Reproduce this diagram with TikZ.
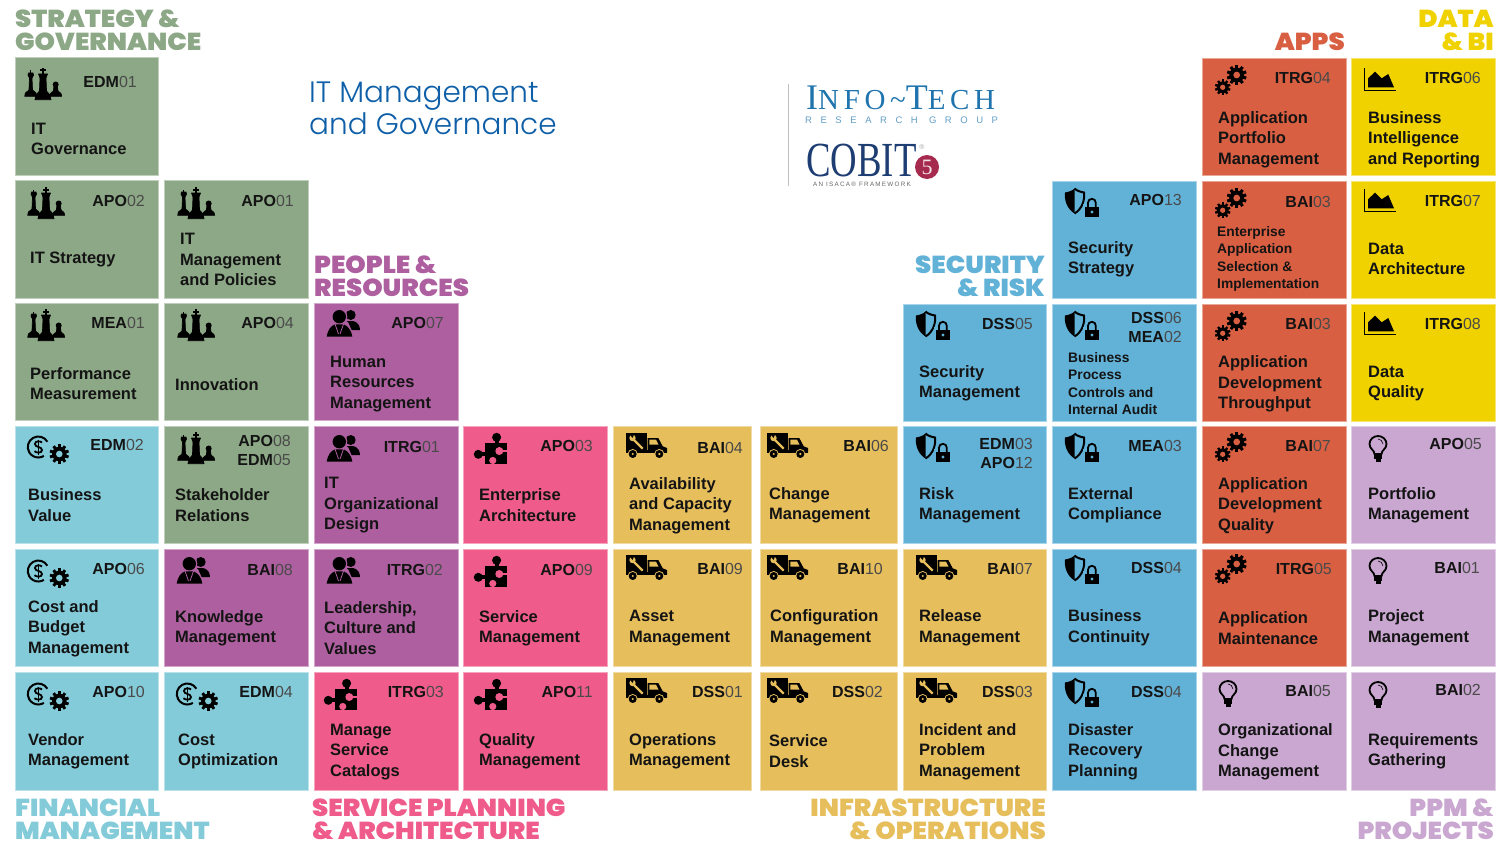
\documentclass[tikz,border=0pt]{standalone}
\usepackage{fontspec}
\setmainfont{Liberation Sans}
\newfontfamily\headfont{Poppins}[BoldFont={Poppins Black},BoldFeatures={FakeStretch=1.06}]
\newfontfamily\bigfont{Poppins Light}
\newfontfamily\logofont{Liberation Serif}[LetterSpace=16]
\newfontfamily\cobitfont{Liberation Serif}[FakeStretch=.75]
\newfontfamily\spacedfont{Liberation Sans}[LetterSpace=90]
\newfontfamily\isacafont{Liberation Sans}[LetterSpace=20]
\newfontfamily\badgefont{Liberation Serif}
\usepackage{tikz}
\definecolor{govn}{HTML}{8DA886}
\definecolor{fin}{HTML}{84CBD9}
\definecolor{hr}{HTML}{AE5F9F}
\definecolor{plan}{HTML}{EF5B8B}
\definecolor{infra}{HTML}{E6BE5C}
\definecolor{sec}{HTML}{62B2D8}
\definecolor{apps}{HTML}{D95F42}
\definecolor{data}{HTML}{EFD200}
\definecolor{ppm}{HTML}{C9A7D0}
\definecolor{ink}{HTML}{141414}
\definecolor{thin}{HTML}{4A4A4A}
\definecolor{mainblue}{HTML}{0F5FA8}
\definecolor{techblue}{HTML}{1F74AE}
\definecolor{cobitblue}{HTML}{1E3E73}
\definecolor{cobitred}{HTML}{A52A4E}
\tikzset{
    tilebox/.style={rectangle, anchor=north west, draw=#1!55!white, line width=.8pt, fill=#1, inner sep=0pt},
    tilesize/.style 2 args={minimum width=#1pt-.5pt, minimum height=#2pt-.5pt},
    codetxt/.style={anchor=east, align=right, inner sep=0pt, yshift=-.5pt, font=\fontsize{16}{19}\selectfont, text=ink},
    titletxt/.style={anchor=west, align=left, inner sep=0pt, yshift=-1.7pt, font=\bfseries\fontsize{16.5}{20.5}\selectfont, text=ink},
    headtxt/.style={inner sep=0pt, font=\headfont\bfseries\fontsize{24.5}{23}\selectfont},
}
\newcommand{\cd}[2]{{\bfseries #1}{\color{thin}#2}}
\newcommand{\lesser}[1]{{\fontsize{13.8}{17.5}\selectfont\begin{tabular}{@{}l@{}}#1\end{tabular}}}
\newcommand{\cogat}[4]{
    \begin{scope}[shift={(#1,#2)}]
        \fill circle (#3);
        \foreach \a in {0,36,...,324}{\fill[rotate=\a] (-#3*.2,-#3*1.33) rectangle (#3*.2,0);}
        \fill[#4] circle (#3*.45);
    \end{scope}
}
% one icon for each colour
\tikzset{
    govn/.pic={
        \begin{scope}[line width=.7pt, line join=round]
        \fill (-1,-17) rectangle (1,-10);
        \fill (-3,-15.5) rectangle (3,-13.5);
        \filldraw (-4.5,-11) -- (4.5,-11) -- (3,-7) -- (3.5,6) -- (7,10) -- (8,14.7) -- (-8,14.7) -- (-7,10) -- (-3.5,6) -- (-3,-7) -- cycle;
        \filldraw (-15,-10) -- (-14.5,-12) -- (-10,-12) -- (-9.5,-10) -- (-11,-7) -- (-10.5,5) -- (-7,8) -- (-6.3,11.3) -- (-18.3,11.3) -- (-17.6,8) -- (-14,5) -- (-13.5,-7) -- cycle;
        \fill (-13,-14.5) rectangle (-11.6,-11);
        \fill (12.7,-.5) circle (3);
        \filldraw (11,1) -- (14.4,1) -- (15,6) -- (18,8.5) -- (18.7,11.3) -- (6.7,11.3) -- (7.4,8.5) -- (10.4,6) -- cycle;
        \end{scope}
    },
    fin/.pic={
        \draw[line width=2pt] (-1.6,-5.25) arc[start angle=-30, end angle=-302, radius=10.5];
        \draw[line width=1.8pt] (-7,-4.5) .. controls (-8.5,-6) and (-14,-6.5) .. (-14,-3) .. controls (-14,.5) and (-7,-.5) .. (-7,3) .. controls (-7,6.5) and (-13,6) .. (-14.5,4.2);
        \fill (-11.3,-7.5) rectangle (-10.1,7.5);
        \cogat{10.3}{7}{7.3}{fin}
    },
    hr/.pic={
        \fill (7.7,-8) circle (5);
        \fill (4,-2) -- (10,-2) .. controls (15,-1) and (17,3) .. (17,7) -- (8,7) -- cycle;
        \fill[hr] (-3.7,-6.3) circle (8);
        \fill[hr] (-18,15) -- (-12,0) -- (5,-1) -- (12,15) -- cycle;
        \fill (-3.7,-6.3) circle (6.7);
        \fill (-16.3,13.7) .. controls (-15,6) and (-12,3) .. (-8,1.3) -- (.5,1.3) .. controls (4.5,3) and (8,6) .. (9.3,13.7) -- cycle;
        \draw[hr, line width=.8pt] (-8,1) -- (-4.5,11) (.5,1) -- (-3,11);
    },
    plan/.pic={
        \fill (-6,-6) rectangle (15.5,15);
        \fill (5.6,-11.7) circle (4.5);
        \fill (3.5,-10) rectangle (7.5,-5);
        \fill (-12.7,5.3) circle (4.5);
        \fill (-11,3.3) rectangle (-5,7.3);
        \fill[plan] (8.3,2) circle (4);
        \fill[plan] (8,.7) rectangle (16,3.3);
        \fill[plan] (1.8,11.5) circle (3.6);
        \fill[plan] (.5,11.5) rectangle (3.1,16);
    },
    infra/.pic={
        \fill (-20,-13) rectangle (.7,4.3);
        \fill (1.5,-8) -- (12.3,-8) -- (16.7,.3) -- (21,2) -- (21,6.5) -- (1.5,6.5) -- cycle;
        \fill (-20.5,4) rectangle (21,6.5);
        \fill[infra] (3.3,-6.3) -- (10,-6.3) -- (12.5,-1.3) -- (3.3,-1.3) -- cycle;
        \draw[infra, line width=2.2pt] (-13,-7) -- (-3.3,2.7);
        \fill[infra] (-13.5,-8) circle (3.2);
        \fill (-16.5,-12) -- (-13.5,-8) -- (-12,-11.5) -- cycle;
        \foreach \x in {-13.3,13.3}{
            \fill[infra] (\x,8) circle (5);
            \fill (\x,8) circle (4);
            \fill[infra] (\x,8) circle (1.2);
        }
    },
    sec/.pic={
        \fill (-7.5,-14.5) .. controls (-10,-12) and (-14,-11) .. (-17,-10.5) .. controls (-18,-3) and (-15,6) .. (-7.5,10.5) -- cycle;
        \draw[line width=2pt] (-7.5,-14.5) .. controls (-5,-12) and (-1,-11) .. (2,-10.5) .. controls (3,-3) and (0,6) .. (-7.5,10.5);
        \fill[sec] (1,1) rectangle (19,16);
        \fill[sec] (9.9,-.3) circle (6);
        \draw[line width=1.8pt] (6,5) -- (6,-.3) arc[start angle=-180, end angle=0, radius=3.9] -- (13.8,5);
        \fill (2.7,4) rectangle (17,14.3);
        \fill[sec] (9.9,9) circle (1.6);
    },
    apps/.pic={
        \cogat{5.7}{-7}{7.5}{apps}
        \cogat{-8.3}{5.3}{5.9}{apps}
    },
    data/.pic={
        \draw[line width=1pt] (-17,-11.7) -- (-17,10.7) -- (14.7,10.7);
        \fill (-13,7.3) -- (-13,-1.7) -- (-6,-8.3) -- (.7,-1.7) -- (7.3,-6) -- (13,7.3) -- cycle;
    },
    ppm/.pic={
        \draw[line width=1.8pt] (-3.5,6) .. controls (-3.5,2) and (-8.5,1) .. (-8.5,-4) .. controls (-8.5,-9) and (-4,-12) .. (0,-12) .. controls (4,-12) and (8.5,-9) .. (8.5,-4) .. controls (8.5,1) and (3.5,2) .. (3.5,6) -- cycle;
        \draw[line width=.6pt] (0,-9) .. controls (2,-9) and (5,-7) .. (5,-4);
        \fill (-4,7) rectangle (4,11);
        \fill (-2.5,11) rectangle (2.5,13.5);
    },
}
% colour, name, corner, size, icon at, code, code at, title at, title
\newcommand{\tile}[9]{
    \node[tilebox=#1, tilesize=#4] (#2) at (#3) {};
    \pic at (#5) {#1};
    \node[codetxt] (#2-code) at (#7) {#6};
    \node[titletxt] (#2-title) at (#8) {\rule{0pt}{13pt}#9\rule[-4pt]{0pt}{0pt}};
}
\begin{document}
\begin{tikzpicture}[x=1pt,y=-1pt]
    \useasboundingbox (0,0) rectangle (1499,843);

    \node[headtxt, anchor=west, align=left, text=govn] (govnhead) at (15,30) {STRATEGY \&\\GOVERNANCE};
    \node[headtxt, anchor=east, align=right, text=apps] (appshead) at (1345,42) {APPS};
    \node[headtxt, anchor=east, align=right, text=data] (datahead) at (1494,30) {DATA\\\& BI};
    \node[headtxt, anchor=west, align=left, text=hr] (hrhead) at (314,276.5) {PEOPLE \&\\RESOURCES};
    \node[headtxt, anchor=east, align=right, text=sec] (sechead) at (1045,276.5) {SECURITY\\\& RISK};
    \node[headtxt, anchor=west, align=left, text=fin] (finhead) at (15,819.5) {FINANCIAL\\MANAGEMENT};
    \node[headtxt, anchor=west, align=left, text=plan] (planhead) at (312,819.5) {SERVICE PLANNING\\\& ARCHITECTURE};
    \node[headtxt, anchor=east, align=right, text=infra] (infrahead) at (1046,819.5) {INFRASTRUCTURE\\\& OPERATIONS};
    \node[headtxt, anchor=east, align=right, text=ppm] (ppmhead) at (1494,819.5) {PPM \&\\PROJECTS};

    \node[anchor=west, align=left, inner sep=0pt, text=mainblue, font=\bigfont\fontsize{29.5}{32}\selectfont] (maintitle) at (309,108) {IT Management\\and Governance};

    \coordinate (ruletop) at (788,84);
    \coordinate (rulefoot) at (788,186);
    \draw[black!25, line width=1pt] (ruletop) -- (rulefoot);
    \node[anchor=base west, inner sep=0pt, text=techblue, font=\logofont] (infotech) at (806,109) {\fontsize{36}{36}\selectfont I\fontsize{29}{36}\selectfont NFO\textasciitilde\fontsize{36}{36}\selectfont T\fontsize{29}{36}\selectfont ECH};
    \node[anchor=west, inner sep=0pt, text=techblue!70, font=\spacedfont\fontsize{9.5}{10}\selectfont] (rgroup) at (805,120) {RESEARCH GROUP};
    \node[anchor=base west, inner sep=0pt, text=cobitblue, font=\cobitfont\fontsize{49}{50}\selectfont] (cobit) at (806,176) {COBIT};
    \node[inner sep=0pt, text=black!35, font=\fontsize{7}{7}\selectfont] (regmark) at (922,147) {®};
    \node[circle, fill=cobitred, minimum size=24pt, inner sep=0pt, text=white!85!cobitred, font=\badgefont\fontsize{22}{22}\selectfont] (fivebadge) at (927,167) {5};
    \node[anchor=west, inner sep=0pt, text=black!60, font=\isacafont\fontsize{6.3}{7}\selectfont] (isaca) at (813,184) {AN ISACA® FRAMEWORK};

    \tile{govn}{edm01}{15,57}{{143}{118}}{43,85}{\cd{EDM}{01}}{137,81}{31,138.5}{IT\\Governance}
    \tile{govn}{apo02}{15,180}{{143}{118}}{46,204}{\cd{APO}{02}}{145,200}{30,257}{IT Strategy}
    \tile{govn}{apo01}{164,180}{{144}{118}}{196,204}{\cd{APO}{01}}{294,200}{180,259}{IT\\Management\\and Policies}
    \tile{sec}{apo13}{1052,181}{{144}{117}}{1082,203}{\cd{APO}{13}}{1182,199}{1068,257.5}{Security\\Strategy}
    \tile{apps}{itrg04}{1202,58}{{144}{117}}{1231,82}{\cd{ITRG}{04}}{1331,77}{1218,137.5}{Application\\Portfolio\\Management}
    \tile{data}{itrg06}{1351,58}{{144}{117}}{1381,80}{\cd{ITRG}{06}}{1481,77}{1368,137.5}{Business\\Intelligence\\and Reporting}
    \tile{apps}{bai03a}{1202,181}{{144}{117}}{1231,205}{\cd{BAI}{03}}{1331,201}{1217,257.5}{\lesser{Enterprise\\Application\\Selection \&\\Implementation}}
    \tile{data}{itrg07}{1351,181}{{144}{117}}{1381,201}{\cd{ITRG}{07}}{1481,200}{1368,258.5}{Data\\Architecture}

    \tile{govn}{mea01}{15,303}{{143}{117}}{46,326}{\cd{MEA}{01}}{145,322}{30,383.5}{Performance\\Measurement}
    \tile{govn}{apo04}{164,303}{{144}{117}}{196,326}{\cd{APO}{04}}{294,322}{175,384}{Innovation}
    \tile{hr}{apo07}{314,303}{{144}{117}}{343,323}{\cd{APO}{07}}{444,322}{330,381.5}{Human\\Resources\\Management}
    \tile{sec}{dss05}{903,304}{{143}{117}}{933,326}{\cd{DSS}{05}}{1033,323}{919,381.5}{Security\\Management}
    \tile{sec}{dss06}{1052,304}{{144}{117}}{1082,326}{\cd{DSS}{06}\\\cd{MEA}{02}}{1182,326.5}{1068,383.5}{\lesser{Business\\Process\\Controls and\\Internal Audit}}
    \tile{apps}{bai03b}{1202,304}{{144}{117}}{1231,328}{\cd{BAI}{03}}{1331,323}{1218,382}{Application\\Development\\Throughput}
    \tile{data}{itrg08}{1351,304}{{144}{117}}{1381,324}{\cd{ITRG}{08}}{1481,323}{1368,381.5}{Data\\Quality}

    \tile{fin}{edm02}{15,426}{{143}{117}}{49,447}{\cd{EDM}{02}}{144,444}{28,505}{Business\\Value}
    \tile{govn}{apo08}{164,426}{{144}{117}}{196,449}{\cd{APO}{08}\\\cd{EDM}{05}}{291,449.5}{175,505}{Stakeholder\\Relations}
    \tile{hr}{itrg01}{314,426}{{144}{117}}{343,448}{\cd{ITRG}{01}}{440,446}{324,503}{IT\\Organizational\\Design}
    \tile{plan}{apo03}{463,426}{{144}{117}}{491,449}{\cd{APO}{03}}{593,445}{479,505}{Enterprise\\Architecture}
    \tile{infra}{bai04}{613,426}{{138}{117}}{646,446}{\cd{BAI}{04}}{743,447}{629,503.5}{Availability\\and Capacity\\Management}
    \tile{infra}{bai06}{760,426}{{137}{117}}{787,446}{\cd{BAI}{06}}{889,445}{769,503.5}{Change\\Management}
    \tile{sec}{edm03}{903,426}{{143}{117}}{933,448}{\cd{EDM}{03}\\\cd{APO}{12}}{1033,453}{919,503.5}{Risk\\Management}
    \tile{sec}{mea03}{1052,426}{{144}{117}}{1082,448}{\cd{MEA}{03}}{1182,445}{1068,503.5}{External\\Compliance}
    \tile{apps}{bai07a}{1202,426}{{144}{117}}{1231,449}{\cd{BAI}{07}}{1331,445}{1218,503.5}{Application\\Development\\Quality}
    \tile{ppm}{apo05}{1351,426}{{144}{117}}{1378,448}{\cd{APO}{05}}{1482,443}{1368,503.5}{Portfolio\\Management}

    \tile{fin}{apo06}{15,549}{{143}{117}}{49,571}{\cd{APO}{06}}{145,568}{28,626.5}{Cost and\\Budget\\Management}
    \tile{hr}{bai08}{164,549}{{144}{117}}{193,570}{\cd{BAI}{08}}{293,569}{175,626.5}{Knowledge\\Management}
    \tile{hr}{itrg02}{314,549}{{144}{117}}{343,570}{\cd{ITRG}{02}}{443,569}{324,627.5}{Leadership,\\Culture and\\Values}
    \tile{plan}{apo09}{463,549}{{144}{117}}{491,572}{\cd{APO}{09}}{593,569}{479,626.5}{Service\\Management}
    \tile{infra}{bai09}{613,549}{{138}{117}}{646,568}{\cd{BAI}{09}}{743,568}{629,626}{Asset\\Management}
    \tile{infra}{bai10}{760,549}{{137}{117}}{787,568}{\cd{BAI}{10}}{883,568}{770,626}{Configuration\\Management}
    \tile{infra}{bai07b}{903,549}{{143}{117}}{936,568}{\cd{BAI}{07}}{1033,568}{919,626}{Release\\Management}
    \tile{sec}{dss04a}{1052,549}{{144}{117}}{1082,570}{\cd{DSS}{04}}{1182,567}{1068,626}{Business\\Continuity}
    \tile{apps}{itrg05}{1202,549}{{144}{117}}{1231,571}{\cd{ITRG}{05}}{1332,568}{1218,628}{Application\\Maintenance}
    \tile{ppm}{bai01}{1351,549}{{144}{117}}{1378,570}{\cd{BAI}{01}}{1480,567}{1368,626}{Project\\Management}

    \tile{fin}{apo10}{15,672}{{143}{118}}{49,694}{\cd{APO}{10}}{145,691}{28,749.5}{Vendor\\Management}
    \tile{fin}{edm04}{164,672}{{144}{118}}{198,694}{\cd{EDM}{04}}{293,691}{178,749.5}{Cost\\Optimization}
    \tile{plan}{itrg03}{314,672}{{144}{118}}{341,695}{\cd{ITRG}{03}}{444,691}{330,749.5}{Manage\\Service\\Catalogs}
    \tile{plan}{apo11}{463,672}{{144}{118}}{491,695}{\cd{APO}{11}}{593,691}{479,749.5}{Quality\\Management}
    \tile{infra}{dss01}{613,672}{{138}{118}}{646,691}{\cd{DSS}{01}}{743,691}{629,749.5}{Operations\\Management}
    \tile{infra}{dss02}{760,672}{{137}{118}}{787,691}{\cd{DSS}{02}}{883,691}{769,751}{Service\\Desk}
    \tile{infra}{dss03}{903,672}{{143}{118}}{936,691}{\cd{DSS}{03}}{1033,691}{919,749.5}{Incident and\\Problem\\Management}
    \tile{sec}{dss04b}{1052,672}{{144}{118}}{1082,693}{\cd{DSS}{04}}{1182,691}{1068,749.5}{Disaster\\Recovery\\Planning}
    \tile{ppm}{bai05}{1202,672}{{144}{118}}{1228,693}{\cd{BAI}{05}}{1331,690}{1218,750}{Organizational\\Change\\Management}
    \tile{ppm}{bai02}{1351,672}{{144}{118}}{1378,694}{\cd{BAI}{02}}{1481,689}{1368,749.5}{Requirements\\Gathering}
\end{tikzpicture}
\end{document}
